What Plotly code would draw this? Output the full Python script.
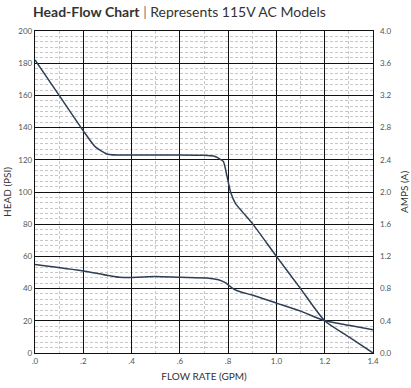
import plotly.graph_objects as go

# Head curve (PSI) vs flow (GPM)
head_flow = [0, 0.1, 0.2, 0.25, 0.3, 0.4, 0.6, 0.7, 0.74, 0.76, 0.78, 0.795, 0.81, 0.83, 0.86, 0.9, 1.0, 1.1, 1.2, 1.3, 1.4]
head_psi = [182, 160, 138, 128, 123.5, 123, 123, 122.8, 122.3, 121, 119, 110, 100, 93, 87.5, 80.5, 60, 40, 20, 10, 0]

# Amps curve (A) vs flow (GPM)
amps_flow = [0, 0.2, 0.35, 0.5, 0.6, 0.72, 0.76, 0.79, 0.82, 0.85, 0.9, 1.0, 1.1, 1.2, 1.3, 1.4]
amps_a = [1.10, 1.02, 0.94, 0.95, 0.94, 0.93, 0.91, 0.87, 0.80, 0.76, 0.72, 0.62, 0.52, 0.40, 0.345, 0.29]

x_tickvals = [0, 0.2, 0.4, 0.6, 0.8, 1.0, 1.2, 1.4]
x_ticktext = [".0", ".2", ".4", ".6", ".8", "1.0", "1.2", "1.4"]
y_tickvals = [0, 20, 40, 60, 80, 100, 120, 140, 160, 180, 200]
y2_tickvals = [0, 0.4, 0.8, 1.2, 1.6, 2.0, 2.4, 2.8, 3.2, 3.6, 4.0]
y2_ticktext = ["0.0", "0.4", "0.8", "1.2", "1.6", "2.0", "2.4", "2.8", "3.2", "3.6", "4.0"]

LINE = "#2d3e55"
FONT = "Lato, 'Open Sans', sans-serif"

fig = go.Figure()
fig.add_trace(go.Scatter(x=head_flow, y=head_psi, mode="lines",
                         line=dict(color=LINE, width=1.5, shape="spline", smoothing=0.6),
                         showlegend=False))
fig.add_trace(go.Scatter(x=amps_flow, y=amps_a, mode="lines", yaxis="y2",
                         line=dict(color=LINE, width=1.5, shape="spline", smoothing=0.6),
                         showlegend=False))

minor_grid = dict(showgrid=True, gridcolor="#c8c8c8", griddash="3px,2px", gridwidth=1)

fig.update_layout(
    width=411, height=388,
    margin=dict(l=35, r=38, t=31, b=35),
    paper_bgcolor="white", plot_bgcolor="white",
    font=dict(family=FONT, color="#444"),
    title=dict(text="<b>Head-Flow Chart</b> <span style='color:#777'>|</span> Represents 115V AC Models",
               font=dict(family=FONT, size=14, color="#333"),
               x=33/411, xref="container", xanchor="left",
               y=1 - 12/388, yref="container", yanchor="middle"),
    xaxis=dict(range=[0, 1.4], tickvals=x_tickvals, ticktext=x_ticktext,
               showgrid=True, gridcolor="#111", gridwidth=1.3,
               minor=dict(dtick=0.1, tick0=0, **minor_grid),
               showline=True, linecolor="#111", linewidth=1.3, mirror=True,
               ticks="", tickfont=dict(size=8, color="#555"), automargin=False,
               title=dict(text="FLOW RATE (GPM)", font=dict(size=10, color="#333"), standoff=8),
               zeroline=False),
    yaxis=dict(range=[0, 200], tickvals=y_tickvals,
               showgrid=True, gridcolor="#111", gridwidth=1.3,
               minor=dict(dtick=20/6, tick0=0, **minor_grid),
               showline=True, linecolor="#111", linewidth=1.3, mirror=True,
               ticks="", tickfont=dict(size=8, color="#555"), automargin=False,
               title=dict(text="HEAD (PSI)", font=dict(size=10, color="#333"), standoff=4),
               zeroline=False),
    yaxis2=dict(range=[0, 4], tickvals=y2_tickvals, ticktext=y2_ticktext,
                overlaying="y", side="right", showgrid=False,
                ticks="", tickfont=dict(size=8, color="#555"), automargin=False,
                ticklabelstandoff=6,
                title=dict(text="AMPS (A)", font=dict(size=10, color="#333"), standoff=10),
                zeroline=False),
)

fig.write_html("out.html", config={"displayModeBar": False},
               post_script="document.body.style.margin='0';")
